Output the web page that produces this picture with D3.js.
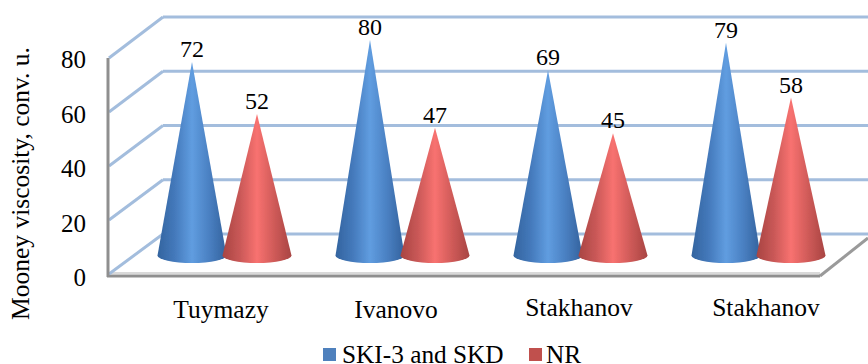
<!DOCTYPE html>
<html>
<head>
<meta charset="utf-8">
<script src="https://cdn.jsdelivr.net/npm/d3@7"></script>
<style>
  html, body { margin: 0; padding: 0; background: #fff; overflow: hidden; }
  text { font-family: "Liberation Serif", serif; fill: #000; }
</style>
</head>
<body>
<div id="wrapper"></div>
<script>
const categories = ["Tuymazy", "Ivanovo", "Stakhanov", "Stakhanov "]
const categoryLabels = ["Tuymazy", "Ivanovo", "Stakhanov", "Stakhanov"]
const seriesNames = ["SKI-3 and SKD", "NR"]
const skiValues = [72, 80, 69, 79]
const nrValues = [52, 47, 45, 58]
const yTicks = [0, 20, 40, 60, 80]

function drawChart() {
  const width = 868, height = 364

  const wall = { frontX: 108, backX: 163, rightX: 868, floorRightX: 820 }
  const frontY = d3.scaleLinear().domain([0, 80]).range([274, 58])
  const backY = d3.scaleLinear().domain([0, 80]).range([234, 17])
  const tickY = d3.scaleLinear().domain([0, 80]).range([286, 68])
  // red cones stand a touch further back in the 3d view, so their tips read higher
  const coneYBlue = d3.scaleLinear().domain([0, 80]).range([260, 40])
  const coneYRed = d3.scaleLinear().domain([0, 80]).range([257, 37])

  const xScale = d3.scaleBand().domain(categories).range([136, 848]).paddingInner(0).paddingOuter(0)
  const seriesScale = d3.scalePoint().domain(seriesNames).range([56, 121])
  const coneRx = 34.5, coneRy = 7.5, baseY = 255.5
  // the original labels do not sit quite centred under their groups
  const labelNudgeX = [-4, -7, -2, 7]
  const labelBaseline = [318, 318, 316, 316]

  const svg = d3.select("#wrapper").append("svg")
    .attr("width", width).attr("height", height)

  const defs = svg.append("defs")
  const gradients = [
    { id: "coneBlue", stops: ["#33649f", "#4479bb", "#609de0", "#4a80c2", "#33629d"] },
    { id: "coneRed", stops: ["#a84442", "#c95857", "#f87270", "#cf5a58", "#a84543"] },
  ]
  gradients.forEach(g => {
    const lg = defs.append("linearGradient").attr("id", g.id)
    g.stops.forEach((c, i) => {
      lg.append("stop").attr("offset", i / (g.stops.length - 1)).attr("stop-color", c)
    })
  })
  defs.append("filter").attr("id", "soft")
    .append("feGaussianBlur").attr("stdDeviation", 0.6)

  const chart = svg.append("g").attr("filter", "url(#soft)")

  // floor edges
  chart.append("line")
    .attr("x1", wall.frontX).attr("x2", wall.floorRightX)
    .attr("y1", frontY(0) - 1).attr("y2", frontY(0) - 1)
    .attr("stroke", "#d9d9d9").attr("stroke-width", 2)
  chart.append("line")
    .attr("x1", wall.frontX - 1).attr("x2", wall.floorRightX)
    .attr("y1", frontY(0) + 2).attr("y2", frontY(0) + 2)
    .attr("stroke", "#8f8f8f").attr("stroke-width", 3)
  chart.append("line")
    .attr("x1", wall.floorRightX).attr("x2", wall.rightX)
    .attr("y1", frontY(0) + 2).attr("y2", backY(0) + 4)
    .attr("stroke", "#9a9a9a").attr("stroke-width", 3)

  // back wall + side wall gridlines
  const gridColor = "#a3bddd"
  chart.selectAll(".grid-back").data(yTicks).join("line")
    .attr("class", "grid-back")
    .attr("x1", wall.backX).attr("x2", wall.rightX)
    .attr("y1", d => backY(d)).attr("y2", d => backY(d))
    .attr("stroke", gridColor).attr("stroke-width", 3)
  chart.selectAll(".grid-side").data(yTicks).join("line")
    .attr("class", "grid-side")
    .attr("x1", wall.frontX + 1).attr("x2", wall.backX)
    .attr("y1", d => frontY(d)).attr("y2", d => backY(d))
    .attr("stroke", gridColor).attr("stroke-width", 3)

  chart.append("line")
    .attr("x1", wall.frontX).attr("x2", wall.frontX)
    .attr("y1", frontY(80)).attr("y2", frontY(0) + 3)
    .attr("stroke", "#8f8f8f").attr("stroke-width", 3)

  // cones
  const conePath = (cx, apex) =>
    `M${cx},${apex}L${cx + coneRx},${baseY}A${coneRx},${coneRy} 0 0 1 ${cx - coneRx},${baseY}Z`
  const series = [
    { name: seriesNames[0], values: skiValues, fill: "url(#coneBlue)", y: coneYBlue },
    { name: seriesNames[1], values: nrValues, fill: "url(#coneRed)", y: coneYRed },
  ]
  series.forEach(s => {
    chart.append("g").selectAll("path").data(categories).join("path")
      .attr("d", (c, i) => conePath(xScale(c) + seriesScale(s.name), s.y(s.values[i])))
      .attr("fill", s.fill)
  })

  // value labels
  series.forEach(s => {
    svg.append("g").selectAll("text").data(categories).join("text")
      .attr("x", c => xScale(c) + seriesScale(s.name))
      .attr("y", (c, i) => s.y(s.values[i]) - 5)
      .attr("text-anchor", "middle")
      .style("font-size", "24px")
      .text((c, i) => s.values[i])
  })

  // y axis labels
  svg.append("g").selectAll("text").data(yTicks).join("text")
    .attr("x", 86)
    .attr("y", d => tickY(d))
    .attr("text-anchor", "end")
    .style("font-size", "25px")
    .text(d => d)

  svg.append("text")
    .attr("transform", "translate(29,183.5) rotate(-90)")
    .attr("text-anchor", "middle")
    .style("font-size", "25.5px")
    .text("Mooney viscosity, conv. u.")

  // category labels
  svg.append("g").selectAll("text").data(categories).join("text")
    .attr("x", (c, i) => xScale(c) + xScale.bandwidth() / 2 + labelNudgeX[i])
    .attr("y", (c, i) => labelBaseline[i])
    .attr("text-anchor", "middle")
    .style("font-size", "25.5px")
    .text((c, i) => categoryLabels[i])

  // legend
  const legend = [
    { name: seriesNames[0], color: "#4f81bd", x: 323, gap: 19 },
    { name: seriesNames[1], color: "#c0504d", x: 529, gap: 17 },
  ]
  const legendItem = svg.append("g").selectAll("g").data(legend).join("g")
    .attr("transform", d => `translate(${d.x},0)`)
  legendItem.append("rect")
    .attr("y", 348).attr("width", 13).attr("height", 13)
    .attr("fill", d => d.color)
  legendItem.append("text")
    .attr("x", d => d.gap).attr("y", 362.5)
    .style("font-size", "25.3px")
    .text(d => d.name)
}
drawChart()
</script>
</body>
</html>
